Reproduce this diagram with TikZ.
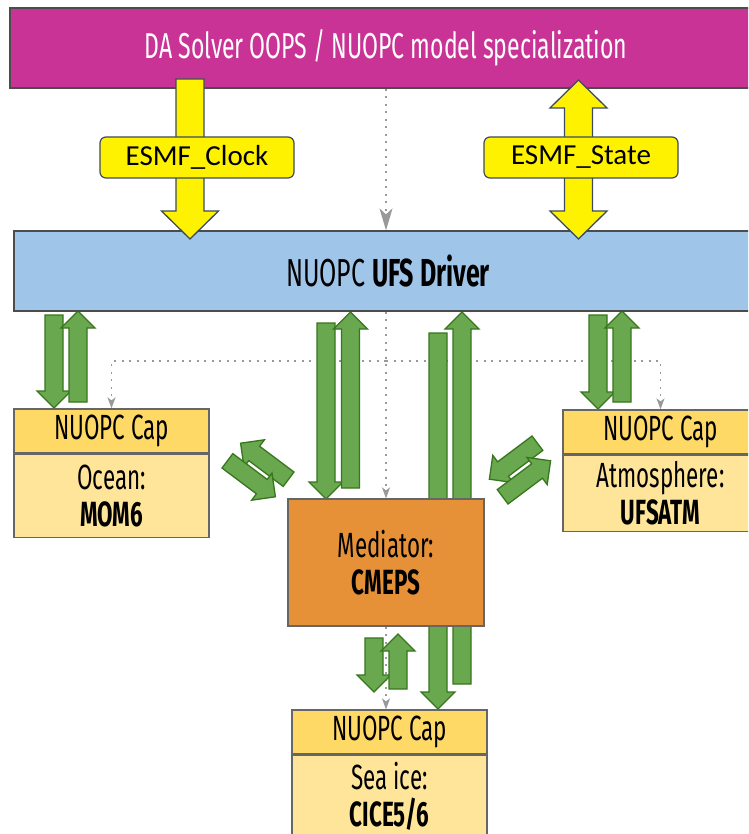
\documentclass[tikz,border=0pt]{standalone}
\usepackage{fontspec}
\setmainfont[FakeStretch=0.64]{Fira Sans}
\newfontfamily\tagfont{Carlito}
\usetikzlibrary{arrows.meta,calc,positioning}

\definecolor{oopsmag}{HTML}{C93396}
\definecolor{drvblue}{HTML}{9FC5E8}
\definecolor{captopc}{HTML}{FFD966}
\definecolor{capbotc}{HTML}{FFE599}
\definecolor{medorange}{HTML}{E69138}
\definecolor{armgreen}{HTML}{6AA84F}
\definecolor{armline}{HTML}{38761D}
\definecolor{tagline}{HTML}{3D4B5C}
\definecolor{boxline}{HTML}{666666}
\definecolor{linkgrey}{HTML}{999999}

\pgfdeclarelayer{paper}
\pgfdeclarelayer{back}
\pgfdeclarelayer{front}
\pgfsetlayers{paper,back,main,front}

% shaft half width, head half width, head length
\def\ashaft{9pt}
\def\ahw{17pt}
\def\ahead{17pt}

% block arrow from tail #2 to tip #3
\newcommand\fatarrow[3][]{%
  \coordinate (hb) at ($(#3)!\ahead!(#2)$);
  \draw[fat,#1] ($(#2)!\ashaft!90:(#3)$) -- ($(hb)!\ashaft!90:(#3)$)
    -- ($(hb)!\ahw!90:(#3)$) -- (#3) -- ($(hb)!\ahw!-90:(#3)$)
    -- ($(hb)!\ashaft!-90:(#3)$) -- ($(#2)!\ashaft!-90:(#3)$) -- cycle;
}
% block arrow with a head on both ends
\newcommand\fatdarrow[3][]{%
  \coordinate (hb1) at ($(#2)!\ahead!(#3)$);
  \coordinate (hb2) at ($(#3)!\ahead!(#2)$);
  \draw[fat,#1] (#2) -- ($(hb1)!\ahw!90:(#3)$) -- ($(hb1)!\ashaft!90:(#3)$)
    -- ($(hb2)!\ashaft!90:(#3)$) -- ($(hb2)!\ahw!90:(#3)$) -- (#3)
    -- ($(hb2)!\ahw!-90:(#3)$) -- ($(hb2)!\ashaft!-90:(#3)$)
    -- ($(hb1)!\ashaft!-90:(#3)$) -- ($(hb1)!\ahw!-90:(#3)$) -- cycle;
}

\tikzset{
  unitbox/.style={draw=boxline, line width=1.2pt, inner sep=0pt, align=center,
    font=\fontsize{35}{37}\selectfont},
  topbox/.style={unitbox, fill=oopsmag, draw=black!70, text=white,
    minimum width=752pt, minimum height=80pt, font=\fontsize{36}{37}\selectfont},
  drvbox/.style={unitbox, fill=drvblue, draw=black!70,
    minimum width=748pt, minimum height=80pt, font=\fontsize{39}{37}\selectfont},
  captop/.style={unitbox, fill=captopc, minimum width=195pt, minimum height=44pt},
  capbot/.style={unitbox, fill=capbotc, minimum width=195pt},
  medbox/.style={unitbox, fill=medorange, minimum width=196pt, minimum height=127pt},
  tag/.style={draw=tagline, fill=yellow, line width=1.2pt, rounded corners=6pt,
    minimum width=194pt, minimum height=41pt, inner sep=0pt,
    font=\tagfont\fontsize{29}{30}\selectfont},
  fat/.style={fill=armgreen, draw=armline, line width=1.3pt, line join=miter},
  yfat/.style={fill=yellow, draw=tagline},
  link/.style={draw=linkgrey, line width=1.6pt, dash pattern=on 2pt off 5.5pt},
  smalltip/.style={-{Stealth[length=11pt,width=8pt,inset=3pt]}},
  bigtip/.style={-{Stealth[length=22pt,width=13pt,inset=6pt]}}
}

\begin{document}
\begin{tikzpicture}[x=1pt, y=-1pt]
\clip (0,0) rectangle (748,834);
\begin{pgfonlayer}{paper}
\fill[white] (0,0) rectangle (748,834);
\end{pgfonlayer}

% boxes
\node[topbox] (oops) at (386,48) {DA Solver OOPS / NUOPC model specialization};
\node[drvbox] (drv) at (388,271) {NUOPC \textbf{UFS Driver}};

\node[captop] (ocn-cap) at (111.5,431) {NUOPC Cap};
\node[capbot, minimum height=83pt, below=0pt of ocn-cap] (ocn) {Ocean:\\\textbf{MOM6}};

\node[captop] (atm-cap) at (660.5,432) {NUOPC Cap};
\node[capbot, minimum height=76pt, below=0pt of atm-cap] (atm) {Atmosphere:\\\textbf{UFSATM}};

\node[captop] (ice-cap) at (389.5,732) {NUOPC Cap};
\node[capbot, minimum height=82pt, below=0pt of ice-cap] (ice) {Sea ice:\\\textbf{CICE5/6}};

\node[medbox] (med) at (386,562.5) {Mediator:\\\textbf{CMEPS}};

% dotted control flow
\begin{pgfonlayer}{back}
\draw[link,bigtip] (oops.south) -- (oops.south |- drv.north);
\draw[link,smalltip] (med.north |- drv.south) -- (med.north);
\coordinate (br) at (386,361);
\draw[link,smalltip] (br) -| (ocn-cap.north);
\draw[link,smalltip] (br) -| (atm-cap.north);
\draw[link,smalltip] (med.south) -- (med.south |- ice-cap.north);

% green exchange arrows
\coordinate (od0) at (54,315);   \coordinate (od1) at (54,408);
\coordinate (ou0) at (78,402);   \coordinate (ou1) at (78,311);
\coordinate (md0) at (326,323);  \coordinate (md1) at (326,499);
\coordinate (mu0) at (350.5,488);\coordinate (mu1) at (350.5,312);
\coordinate (id0) at (438,333);  \coordinate (id1) at (438,709);
\coordinate (iu0) at (462,684);  \coordinate (iu1) at (462,312);
\coordinate (ad0) at (598,315);  \coordinate (ad1) at (598,409);
\coordinate (au0) at (622,402);  \coordinate (au1) at (622,311);
\coordinate (sd0) at (374,638);  \coordinate (sd1) at (374,692);
\coordinate (su0) at (398,689);  \coordinate (su1) at (398,634);
\coordinate (ox0) at (288.6,479.2); \coordinate (ox1) at (240.6,443.2);
\coordinate (oy0) at (227.4,460.8); \coordinate (oy1) at (275.4,496.8);
\coordinate (ax0) at (537.4,443.2); \coordinate (ax1) at (489.4,479.2);
\coordinate (ay0) at (502.6,496.8); \coordinate (ay1) at (550.6,460.8);

\fatarrow{od0}{od1} \fatarrow{ou0}{ou1}
\fatarrow{md0}{md1} \fatarrow{mu0}{mu1}
\fatarrow{id0}{id1} \fatarrow{iu0}{iu1}
\fatarrow{ad0}{ad1} \fatarrow{au0}{au1}
\fatarrow{sd0}{sd1} \fatarrow{su0}{su1}
\fatarrow{ox0}{ox1} \fatarrow{oy0}{oy1}
\fatarrow{ax0}{ax1} \fatarrow{ay0}{ay1}
\end{pgfonlayer}

% yellow clock and state arrows
\begin{pgfonlayer}{front}
\def\ashaft{14pt}
\def\ahw{28.5pt}
\def\ahead{28pt}
\coordinate (ck0) at (190,79);    \coordinate (ck1) at (190,239);
\coordinate (st0) at (578.5,80);  \coordinate (st1) at (578.5,239);
\fatarrow[yfat]{ck0}{ck1}
\fatdarrow[yfat]{st0}{st1}
\node[tag] (clk) at (197,157.5) {ESMF\_Clock\hspace{12pt}};
\node[tag] (state) at (581,157.5) {ESMF\_State\hspace{6pt}};
\end{pgfonlayer}
\end{tikzpicture}
\end{document}
